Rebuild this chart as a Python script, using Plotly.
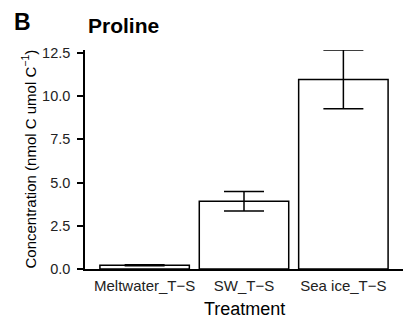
import plotly.graph_objects as go

# Proline concentration per treatment (mean ± error)
treatments = ["Meltwater_T\u2212S", "SW_T\u2212S", "Sea ice_T\u2212S"]
proline_mean = [0.22, 3.92, 10.97]
proline_err = [0.03, 0.56, 1.70]

FONT = "Liberation Sans, Arial, sans-serif"

fig = go.Figure()
fig.add_trace(go.Bar(
    x=treatments,
    y=proline_mean,
    width=0.9,
    marker=dict(color="white", line=dict(color="black", width=1.5)),
    error_y=dict(type="data", array=proline_err, visible=True,
                 color="black", thickness=1.5, width=20),
))

y_top = max(m + e for m, e in zip(proline_mean, proline_err))

fig.update_layout(
    width=403, height=322,
    margin=dict(l=85, r=0, t=50, b=53),
    paper_bgcolor="white", plot_bgcolor="white",
    showlegend=False,
    font=dict(family=FONT, color="black"),
    xaxis=dict(
        range=[-0.6, 2.6], showline=True, linecolor="black", linewidth=1.5,
        ticks="", showgrid=False, zeroline=False,
        tickfont=dict(size=15, color="#222"), ticklabelstandoff=2,
    ),
    yaxis=dict(
        range=[0, y_top], showline=True, linecolor="black", linewidth=1.5,
        ticks="outside", ticklen=6, tickwidth=1.5, tickcolor="black",
        tickvals=[0, 2.5, 5, 7.5, 10, 12.5],
        ticktext=["0.0", "2.5", "5.0", "7.5", "10.0", "12.5"],
        showgrid=False, zeroline=False,
        tickfont=dict(size=14.5, color="#222"), ticklabelstandoff=4,
    ),
    annotations=[
        dict(text="<b>B</b>", xref="paper", yref="paper", x=0, y=1,
             xshift=-73, yshift=28, xanchor="left", yanchor="middle",
             showarrow=False, font=dict(size=23, family=FONT, color="black")),
        dict(text="<b>Proline</b>", xref="paper", yref="paper", x=0, y=1,
             xshift=1, yshift=25, xanchor="left", yanchor="middle",
             showarrow=False, font=dict(size=21, family=FONT, color="black")),
        dict(text="Treatment", xref="paper", yref="paper", x=0.5, y=0,
             yshift=-40, xanchor="center", yanchor="middle",
             showarrow=False, font=dict(size=18, family=FONT, color="black")),
        dict(text="Concentration (nmol C umol C<sup>\u22121</sup>)",
             xref="paper", yref="paper", x=0, y=0.5, xshift=-56,
             xanchor="center", yanchor="middle", textangle=-90,
             showarrow=False, font=dict(size=15, family=FONT, color="black")),
    ],
)

fig.write_html("out.html")
